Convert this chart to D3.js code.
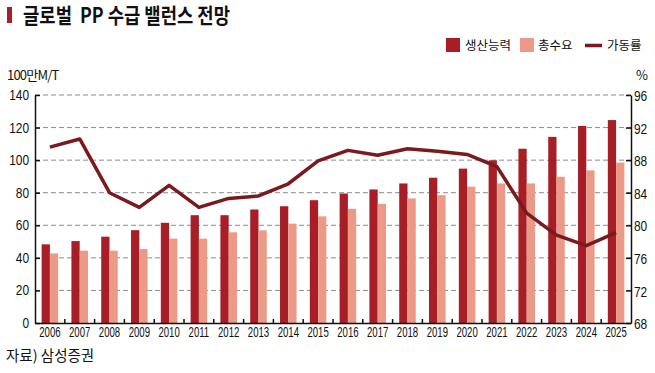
<!DOCTYPE html>
<html>
<head>
    <meta charset="utf-8">
    <title>글로벌 PP 수급 밸런스 전망</title>
    <script src="https://d3js.org/d3.v7.min.js"></script>
    <style>
        body { margin:0; background:white; }
        text { font-family:"Noto Sans CJK KR", "Noto Sans", sans-serif; fill:#111; }
        .num { font-family:"Liberation Sans", Arial, sans-serif; font-size:14px; }
        .grid line { stroke:#8c8c8c; stroke-width:1; stroke-dasharray:5,3; }
        .axis path, .axis line { stroke:#111; stroke-width:1.5; }
    </style>
</head>
<body>
<script>
    var years = ["2006","2007","2008","2009","2010","2011","2012","2013","2014","2015",
                 "2016","2017","2018","2019","2020","2021","2022","2023","2024","2025"];
    // 생산능력 (100만M/T)
    var capacity = [48.3, 50.3, 53, 57, 61.5, 66.2, 66.2, 69.7, 71.7, 75.4,
                    79.5, 82, 85.7, 89.2, 94.8, 99.9, 107, 114.3, 121, 124.6];
    // 총수요 (100만M/T)
    var demand = [42.7, 44.4, 44.4, 45.4, 51.8, 51.8, 55.7, 56.9, 61, 65.5,
                  70.1, 73.2, 76.5, 78.5, 83.7, 85.7, 85.7, 89.8, 93.7, 98.5];
    // 가동률 (%)
    var utilization = [89.6, 90.6, 84.0, 82.2, 84.9, 82.2, 83.3, 83.6, 85.1, 87.9,
                       89.2, 88.6, 89.4, 89.1, 88.7, 87.2, 81.5, 78.8, 77.5, 79.1];
    var leftTicks = [0, 20, 40, 60, 80, 100, 120, 140];
    var rightTicks = [68, 72, 76, 80, 84, 88, 92, 96];

    var W = 655, H = 373;
    var L = 35, R = 631, T = 95, B = 323;
    var darkRed = "#a81e27", lightRed = "#ec9a88", lineColor = "#7a1a1e";

    var svg = d3.select("body").append("svg").attr("width", W).attr("height", H);

    var x = d3.scaleBand().domain(years).range([L, R]);
    var xs = d3.scaleBand().domain(["cap","dem"]).range([0, x.bandwidth()]).paddingOuter(0.8);
    var yL = d3.scaleLinear().domain([0, 140]).range([B, T]);
    var yR = d3.scaleLinear().domain([68, 96]).range([B, T]);

    // title
    svg.append("rect").attr("x", 7).attr("y", 7).attr("width", 5).attr("height", 16).attr("fill", "#a81e27");
    svg.append("text").attr("x", 23).attr("y", 23).attr("font-size", 21).attr("font-weight", "bold")
        .attr("textLength", 207).attr("lengthAdjust", "spacingAndGlyphs")
        .style("white-space", "pre")
        .text("글로벌  PP 수급 밸런스 전망");

    // legend
    var lg = svg.append("g").attr("font-size", 12.5);
    lg.append("rect").attr("x", 446).attr("y", 38).attr("width", 14).attr("height", 14).attr("fill", darkRed);
    lg.append("text").attr("x", 465).attr("y", 50).text("생산능력");
    lg.append("rect").attr("x", 520).attr("y", 38).attr("width", 14).attr("height", 14).attr("fill", lightRed);
    lg.append("text").attr("x", 538).attr("y", 50).text("총수요");
    lg.append("line").attr("x1", 585).attr("x2", 602).attr("y1", 45.5).attr("y2", 45.5)
        .attr("stroke", lineColor).attr("stroke-width", 3.5);
    lg.append("text").attr("x", 607).attr("y", 50).text("가동률");

    // unit labels
    svg.append("text").attr("x", 7).attr("y", 80).attr("font-size", 13).attr("letter-spacing", "-0.8px").text("100만M/T");
    svg.append("text").attr("x", 636).attr("y", 80).attr("font-size", 13).text("%");

    // grid
    svg.append("g").attr("class", "grid").selectAll("line")
        .data(leftTicks.filter(function(d){ return d > 0; }))
        .enter().append("line")
        .attr("x1", L).attr("x2", R)
        .attr("y1", function(d){ return yL(d); }).attr("y2", function(d){ return yL(d); });

    // bars
    var groups = svg.append("g").selectAll("g").data(years).enter().append("g")
        .attr("transform", function(d){ return "translate(" + x(d) + ",0)"; });
    groups.append("rect")
        .attr("x", xs("cap")).attr("width", xs.bandwidth())
        .attr("y", function(d, i){ return yL(capacity[i]); })
        .attr("height", function(d, i){ return B - yL(capacity[i]); })
        .attr("fill", darkRed);
    groups.append("rect")
        .attr("x", xs("dem")).attr("width", xs.bandwidth())
        .attr("y", function(d, i){ return yL(demand[i]); })
        .attr("height", function(d, i){ return B - yL(demand[i]); })
        .attr("fill", lightRed);

    // line
    var line = d3.line()
        .x(function(d, i){ return x(years[i]) + x.bandwidth() / 2; })
        .y(function(d){ return yR(d); });
    svg.append("path").datum(utilization).attr("d", line)
        .attr("fill", "none").attr("stroke", lineColor).attr("stroke-width", 3.5)
        .attr("stroke-linejoin", "round");

    // axes
    var axL = svg.append("g").attr("class", "axis").attr("transform", "translate(" + L + ",0)")
        .call(d3.axisLeft(yL).tickValues(leftTicks).tickSize(-5).tickSizeOuter(0).tickPadding(5));
    var axR = svg.append("g").attr("class", "axis").attr("transform", "translate(" + R + ",0)")
        .call(d3.axisRight(yR).tickValues(rightTicks).tickSize(-5).tickSizeOuter(0).tickPadding(3));
    [axL, axR].forEach(function(a){
        a.selectAll("text").attr("class", "num").attr("font-size", null).attr("fill", "#111")
            .attr("transform", "scale(0.85,1)");
    });
    axL.selectAll("text").attr("x", -6 / 0.85);
    axR.selectAll("text").attr("x", 3 / 0.85).attr("dy", "0.4em");

    var axB = svg.append("g").attr("class", "axis").attr("transform", "translate(0," + B + ")")
        .call(d3.axisBottom(x).tickSize(0).tickSizeOuter(0).tickPadding(3));
    axB.selectAll("text").attr("class", "num").attr("font-size", null).attr("fill", "#111")
        .style("font-size", "15px")
        .attr("transform", "scale(0.64,1)");
    axB.append("g").selectAll("line").data(years.slice(1)).enter().append("line")
        .attr("x1", function(d){ return x(d); }).attr("x2", function(d){ return x(d); })
        .attr("y1", 0).attr("y2", -4);

    // source
    svg.append("text").attr("x", 6).attr("y", 361).attr("font-size", 14.5).attr("fill", "#333")
        .text("자료) 삼성증권");
</script>
</body>
</html>
